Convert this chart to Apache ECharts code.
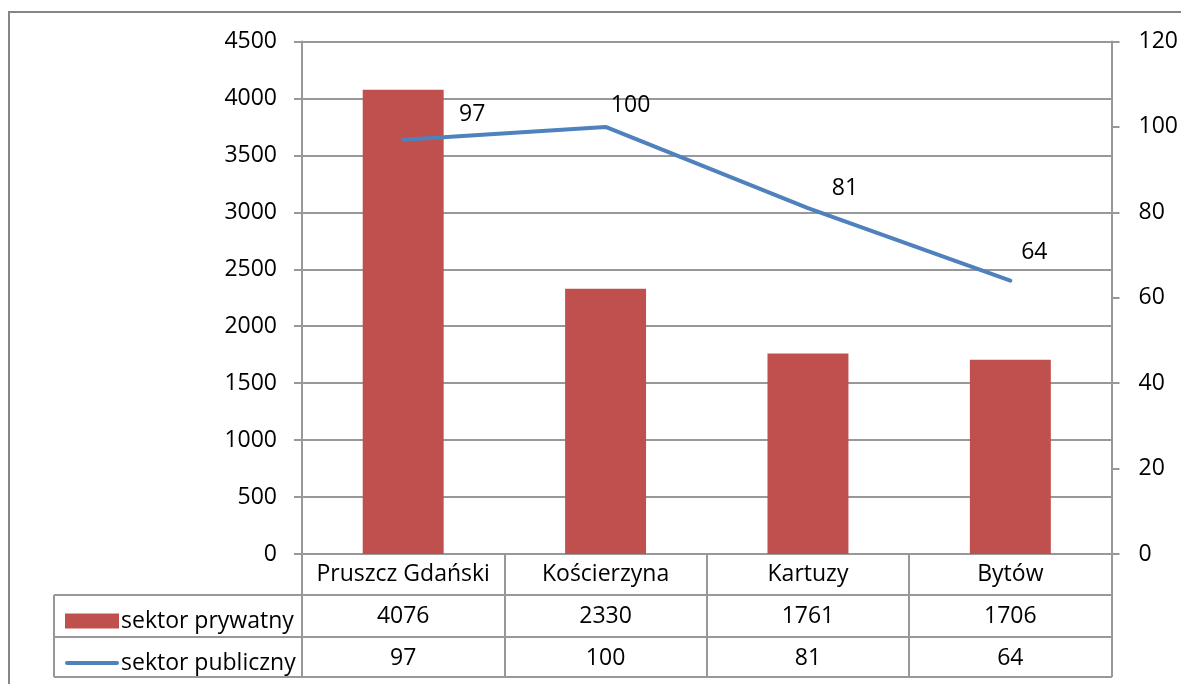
<!DOCTYPE html>
<html>
<head>
<meta charset="utf-8">
<script src="https://cdn.jsdelivr.net/npm/echarts@6/dist/echarts.min.js"></script>
<style>
  html, body { margin: 0; padding: 0; background: #fff; }
  #chart { width: 1181px; height: 684px; }
</style>
</head>
<body>
<div id="chart"></div>
<script>
const categories = ['Pruszcz Gdański', 'Kościerzyna', 'Kartuzy', 'Bytów'];
const privateSector = [4076, 2330, 1761, 1706];
const publicSector = [97, 100, 81, 64];
const seriesNames = ['sektor prywatny', 'sektor publiczny'];

const FONT = 'Open Sans';
const FS = 23;
const gridColor = '#989898';
// hand placed data labels, like in the original sheet
const labelShift = [[69, -9], [25, -5], [37, -3], [24, -12]];

const chart = echarts.init(document.getElementById('chart'));

const tableAxis = (values, offset) => ({
    type: 'category',
    data: values.map(String),
    position: 'bottom',
    offset: offset,
    axisLine: { show: false },
    axisTick: { show: false },
    axisLabel: { color: '#000', fontFamily: FONT, fontSize: FS, margin: 9, interval: 0 }
});

const option = {
    backgroundColor: '#fff',
    animation: false,
    textStyle: { fontFamily: FONT },
    grid: { left: 302, right: 69, top: 41.5, bottom: 130, containLabel: false },
    legend: {
        orient: 'vertical',
        left: 60,
        top: 601,
        itemWidth: 54,
        itemHeight: 15,
        itemGap: 12,
        itemStyle: { borderWidth: 0 },
        textStyle: { color: '#000', fontFamily: FONT, fontSize: FS, lineHeight: 30, padding: [0, 0, 0, -3] },
        data: [
            { name: seriesNames[0], icon: 'rect' },
            { name: seriesNames[1], icon: 'path://M2,0h50a2,2 0 0 1 0,4h-50a2,2 0 0 1 0,-4z' }
        ]
    },
    xAxis: [
        {
            type: 'category',
            data: categories,
            axisLine: { lineStyle: { color: gridColor, width: 2 } },
            axisTick: { show: true, length: 123, lineStyle: { color: gridColor, width: 2 } },
            axisLabel: { color: '#000', fontFamily: FONT, fontSize: FS, margin: 9, interval: 0 }
        },
        tableAxis(privateSector, 42),
        tableAxis(publicSector, 84)
    ],
    yAxis: [
        {
            type: 'value',
            min: 0, max: 4500, interval: 500,
            axisLine: { show: true, lineStyle: { color: gridColor, width: 2 } },
            axisTick: { show: true, length: 8, lineStyle: { color: gridColor, width: 2 } },
            axisLabel: { color: '#000', fontFamily: FONT, fontSize: FS, margin: 25, formatter: v => String(v) },
            splitLine: { lineStyle: { color: gridColor, width: 2 } }
        },
        {
            type: 'value',
            min: 0, max: 120, interval: 20,
            position: 'right',
            axisLine: { show: true, lineStyle: { color: gridColor, width: 2 } },
            axisTick: { show: true, length: 8, lineStyle: { color: gridColor, width: 2 } },
            axisLabel: { color: '#000', fontFamily: FONT, fontSize: FS, margin: 27, formatter: v => String(v) },
            splitLine: { show: false }
        }
    ],
    series: [
        {
            name: seriesNames[0],
            type: 'bar',
            data: privateSector,
            barWidth: '40%',
            itemStyle: { color: '#C0504D' }
        },
        {
            name: seriesNames[1],
            type: 'line',
            yAxisIndex: 1,
            data: publicSector.map((v, i) => ({
                value: v,
                label: { offset: labelShift[i] }
            })),
            symbol: 'circle',
            symbolSize: 0,
            showAllSymbol: true,
            lineStyle: { color: '#4F81BD', width: 4, cap: 'round' },
            itemStyle: { color: '#4F81BD' },
            label: {
                show: true,
                position: 'top',
                color: '#000',
                fontFamily: FONT,
                fontSize: FS
            }
        }
    ],
    graphic: [
        { type: 'rect', silent: true, shape: { x: 9, y: 12, width: 1200, height: 700 },
          style: { fill: 'none', stroke: '#868686', lineWidth: 2 }, z: -1 },
        { type: 'line', silent: true, shape: { x1: 54, y1: 595, x2: 1112, y2: 595 }, style: { stroke: gridColor, lineWidth: 2 } },
        { type: 'line', silent: true, shape: { x1: 54, y1: 637, x2: 1112, y2: 637 }, style: { stroke: gridColor, lineWidth: 2 } },
        { type: 'line', silent: true, shape: { x1: 54, y1: 677, x2: 1112, y2: 677 }, style: { stroke: gridColor, lineWidth: 2 } },
        { type: 'line', silent: true, shape: { x1: 54, y1: 595, x2: 54, y2: 677 }, style: { stroke: gridColor, lineWidth: 2 } }
    ]
};

chart.setOption(option);
</script>
</body>
</html>
